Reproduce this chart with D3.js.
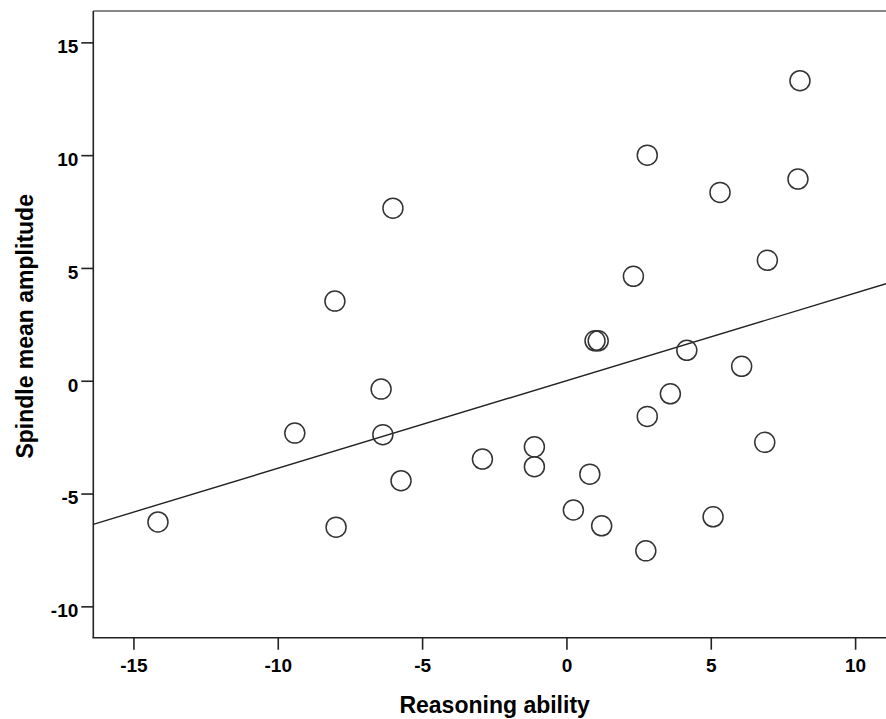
<!DOCTYPE html>
<html>
<head>
<meta charset="utf-8">
<script src="https://cdn.jsdelivr.net/npm/d3@7/dist/d3.min.js"></script>
<style>
  html, body { margin: 0; padding: 0; background: #fff; }
  svg { display: block; }
  text { font-family: "Liberation Sans", Arial, sans-serif; fill: #000; }
</style>
</head>
<body>
<svg id="chart" width="886" height="719"></svg>
<script>
// Data
const reasoningAbility = [-14.15, -7.98, -9.41, -8.02, -6.01, -6.42, -6.36, -5.73, -2.91, -1.11, -1.11, 0.81, 0.24, 1.22, 0.99, 1.10, 2.32, 2.80, 2.80, 2.75, 3.60, 4.17, 6.07, 6.87, 5.08, 5.32, 6.96, 8.02, 8.09];
const spindleAmplitude = [-6.26, -6.49, -2.32, 3.53, 7.65, -0.37, -2.39, -4.43, -3.47, -2.93, -3.81, -4.14, -5.73, -6.43, 1.77, 1.77, 4.63, 10.00, -1.58, -7.54, -0.58, 1.35, 0.64, -2.73, -6.03, 8.35, 5.34, 8.94, 13.30];
const xTicks = [-15, -10, -5, 0, 5, 10];
const yTicks = [-10, -5, 0, 5, 10, 15];
const xTitle = "Reasoning ability";
const yTitle = "Spindle mean amplitude";

(function () {
const svg = d3.select("#chart");
const pLeft = 93.3, pRight = 886, pTop = 11, pBottom = 637.7;

const x = d3.scaleLinear().domain([-16.39, 11.07]).range([pLeft, pRight]);
const y = d3.scaleLinear().domain([-11.39, 16.39]).range([pBottom, pTop]);

const points = reasoningAbility.map((v, i) => ({x: v, y: spindleAmplitude[i]}));

// Top border
svg.append("line")
  .attr("x1", pLeft).attr("x2", pRight)
  .attr("y1", pTop).attr("y2", pTop)
  .attr("stroke", "#888").attr("stroke-width", 2);

// Axes
const fmt = d => String(d);
const xAxis = svg.append("g")
  .attr("transform", `translate(0,${pBottom})`)
  .call(d3.axisBottom(x).tickValues(xTicks).tickSize(12).tickPadding(9).tickSizeOuter(0).tickFormat(fmt));
const yAxis = svg.append("g")
  .attr("transform", `translate(${pLeft},0)`)
  .call(d3.axisLeft(y).tickValues(yTicks).tickSize(12).tickPadding(3).tickSizeOuter(0).tickFormat(fmt));

[xAxis, yAxis].forEach(g => {
  g.select(".domain").attr("stroke", "#222").attr("stroke-width", 1.6);
  g.selectAll(".tick line").attr("stroke", "#222").attr("stroke-width", 1.6);
  g.selectAll(".tick text")
    .attr("font-family", "'Liberation Sans', Arial, sans-serif")
    .attr("font-size", 19).attr("font-weight", "bold").attr("fill", "#000");
});
xAxis.selectAll(".tick text").attr("dy", "0.71em");
yAxis.selectAll(".tick text").attr("dy", "0.55em");
xAxis.select(".domain").attr("d", `M${-0.8 + pLeft},0H${pRight}`);
yAxis.select(".domain").attr("d", `M0,${pBottom}V${pTop}`);

// Regression line (OLS fit computed from the data)
const mx = d3.mean(reasoningAbility), my = d3.mean(spindleAmplitude);
const sxy = d3.sum(points, p => (p.x - mx) * (p.y - my));
const sxx = d3.sum(points, p => (p.x - mx) * (p.x - mx));
const slope = sxy / sxx, intercept = my - slope * mx;
const xd = x.domain();
svg.append("line")
  .attr("x1", x(xd[0])).attr("y1", y(intercept + slope * xd[0]))
  .attr("x2", x(xd[1])).attr("y2", y(intercept + slope * xd[1]))
  .attr("stroke", "#222").attr("stroke-width", 1.4);

// Points
svg.append("g").selectAll("circle")
  .data(points)
  .join("circle")
  .attr("cx", d => x(d.x))
  .attr("cy", d => y(d.y))
  .attr("r", 10)
  .attr("fill", "none")
  .attr("stroke", "#333")
  .attr("stroke-width", 1.5);

// Axis titles
svg.append("text")
  .attr("x", (pLeft + pRight) / 2 + 5).attr("y", 713)
  .attr("text-anchor", "middle")
  .attr("font-size", 23).attr("font-weight", "bold")
  .text(xTitle);
svg.append("text")
  .attr("transform", `translate(33,${(pTop + pBottom) / 2 + 2}) rotate(-90)`)
  .attr("text-anchor", "middle")
  .attr("font-size", 23).attr("font-weight", "bold")
  .text(yTitle);
})();
</script>
</body>
</html>
